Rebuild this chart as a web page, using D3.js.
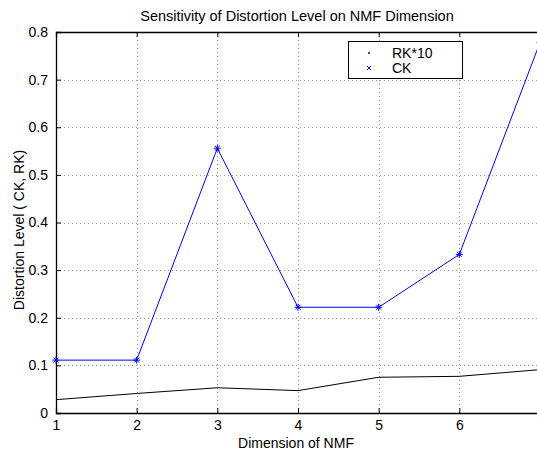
<!DOCTYPE html>
<html>
<head>
<meta charset="utf-8">
<script src="https://cdn.jsdelivr.net/npm/d3@7"></script>
<style>
  body { margin: 0; background: #fff; }
  text { font-family: "Liberation Sans", Arial, sans-serif; fill: #000; }
</style>
</head>
<body>
<div id="chart"></div>
<script>
const dims = [1, 2, 3, 4, 5, 6, 7];
const ck = [0.111, 0.111, 0.556, 0.222, 0.222, 0.333, 0.778];
const rk10 = [0.028, 0.041, 0.053, 0.047, 0.075, 0.077, 0.091];
const xTicks = [1, 2, 3, 4, 5, 6, 7];
const yTicks = [0, 0.1, 0.2, 0.3, 0.4, 0.5, 0.6, 0.7, 0.8];

const W = 537, H = 453;
const m = { left: 56, top: 32, right: -3, bottom: 40 };

const svg = d3.select("#chart").append("svg")
    .attr("width", W)
    .attr("height", H);

const x = d3.scaleLinear().domain([1, 7]).range([m.left, W - m.right]);
const y = d3.scaleLinear().domain([0, 0.8]).range([H - m.bottom, m.top]);

// grid
const grid = svg.append("g")
    .attr("stroke", "#999")
    .attr("stroke-width", 1)
    .attr("stroke-dasharray", "1,3");
grid.selectAll(".gx").data(xTicks.slice(1, -1)).enter().append("line")
    .attr("x1", d => Math.round(x(d)) + 0.5).attr("x2", d => Math.round(x(d)) + 0.5)
    .attr("y1", y(0.8)).attr("y2", y(0));
grid.selectAll(".gy").data(yTicks.slice(1, -1)).enter().append("line")
    .attr("x1", x(1)).attr("x2", x(7))
    .attr("y1", d => Math.round(y(d)) + 0.5).attr("y2", d => Math.round(y(d)) + 0.5);

// axes (MATLAB style: inward ticks)
const xAxis = svg.append("g")
    .attr("transform", `translate(0,${y(0)})`)
    .call(d3.axisBottom(x).tickValues(xTicks).tickSize(-5).tickPadding(7).tickFormat(d3.format("d")));
const xTop = svg.append("g")
    .attr("transform", `translate(0,${y(0.8)})`)
    .call(d3.axisTop(x).tickValues(xTicks).tickSize(-5).tickFormat(""));
const yAxis = svg.append("g")
    .attr("transform", `translate(${x(1)},0)`)
    .call(d3.axisLeft(y).tickValues(yTicks).tickSize(-5).tickPadding(8).tickFormat(d => d === 0 ? "0" : d3.format(".1f")(d)));

[xAxis, xTop, yAxis].forEach(g => {
  g.select(".domain").attr("stroke", "#000").attr("stroke-width", 1.3);
  g.selectAll(".tick line").attr("stroke", "#000");
  g.selectAll(".tick text").attr("font-size", 14)
    .attr("font-family", "Liberation Sans, Arial, sans-serif");
});

// lines
const line = d3.line().x((d, i) => x(dims[i])).y(d => y(d));

svg.append("path").datum(rk10)
    .attr("fill", "none").attr("stroke", "#000").attr("stroke-width", 1)
    .attr("d", line);

svg.append("path").datum(ck)
    .attr("fill", "none").attr("stroke", "#0000ff").attr("stroke-width", 1)
    .attr("d", line);

// asterisk markers for CK
const star = (g, cx, cy, r, color) => {
  const s = g.append("g").attr("transform", `translate(${cx},${cy})`)
      .attr("stroke", color).attr("stroke-width", 1);
  s.append("line").attr("x1", -r).attr("x2", r).attr("y1", 0).attr("y2", 0);
  s.append("line").attr("x1", 0).attr("x2", 0).attr("y1", -r).attr("y2", r);
  s.append("line").attr("x1", -r * 0.7).attr("x2", r * 0.7).attr("y1", -r * 0.7).attr("y2", r * 0.7);
  s.append("line").attr("x1", -r * 0.7).attr("x2", r * 0.7).attr("y1", r * 0.7).attr("y2", -r * 0.7);
};
ck.forEach((v, i) => star(svg, x(dims[i]), y(v), 3.5, "#0000ff"));

// legend
const lg = svg.append("g");
lg.append("rect").attr("x", 348.5).attr("y", 41.5).attr("width", 114).attr("height", 37)
    .attr("fill", "#fff").attr("stroke", "#000").attr("stroke-width", 1);
lg.append("circle").attr("cx", 369).attr("cy", 53).attr("r", 0.9).attr("fill", "#000");
lg.append("text").attr("x", 392).attr("y", 58).attr("font-size", 14).text("RK*10");
lg.append("text").attr("x", 392).attr("y", 73).attr("font-size", 14).text("CK");
{
  const s = lg.append("g").attr("transform", "translate(369,68)").attr("stroke", "#0000ff");
  s.append("line").attr("x1", -2).attr("x2", 2).attr("y1", -2).attr("y2", 2);
  s.append("line").attr("x1", -2).attr("x2", 2).attr("y1", 2).attr("y2", -2);
}

// title and labels
svg.append("text").attr("x", 297).attr("y", 21).attr("text-anchor", "middle")
    .attr("font-size", 14.5).text("Sensitivity of Distortion Level on NMF Dimension");
svg.append("text").attr("x", 296).attr("y", 448).attr("text-anchor", "middle")
    .attr("font-size", 14).text("Dimension of NMF");
svg.append("text").attr("transform", "translate(24,230) rotate(-90)")
    .attr("text-anchor", "middle").attr("font-size", 14).text("Distortion Level ( CK, RK)");
</script>
</body>
</html>
